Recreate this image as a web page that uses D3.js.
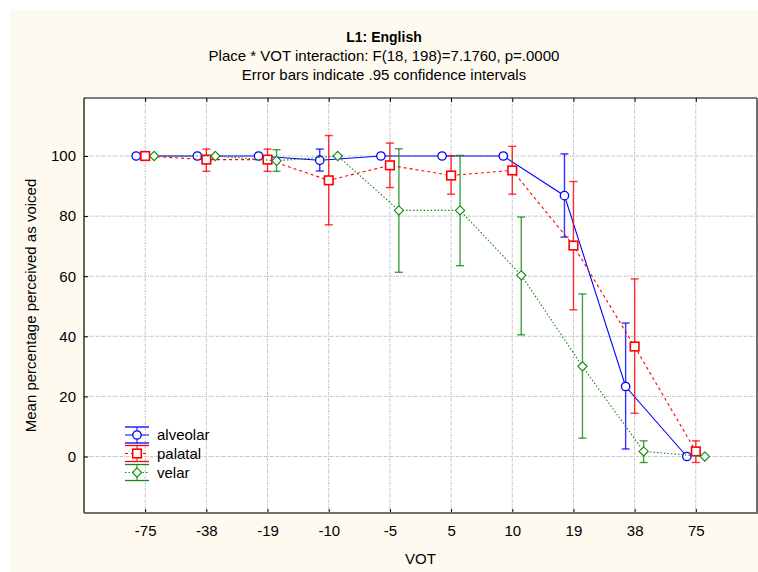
<!DOCTYPE html>
<html>
<head>
<meta charset="utf-8">
<script src="https://cdn.jsdelivr.net/npm/d3@7"></script>
<style>
  body { margin: 0; background: #ffffff; }
  svg text { font-family: "Liberation Sans", Arial, sans-serif; fill: #000; }
</style>
</head>
<body>
<div class="chart-holder"></div>
<script>
// values
var votLevels = ["-75", "-38", "-19", "-10", "-5", "5", "10", "19", "38", "75"];
var yTicks = [0, 20, 40, 60, 80, 100];

var alveolarMean = [100, 100, 100, 98.6, 100, 100, 100, 86.8, 23.3, 0];
var alveolarLow  = [100, 100, 100, 95.0, 100, 100, 100, 73.0, 2.5, 0];
var alveolarHigh = [100, 100, 100, 102.3, 100, 100, 100, 100.7, 44.4, 0];

var palatalMean = [100, 98.8, 98.8, 91.9, 96.9, 93.5, 95.2, 70.2, 36.6, 1.7];
var palatalLow  = [100, 94.9, 94.9, 77.1, 89.5, 87.3, 87.3, 48.8, 14.4, -2.0];
var palatalHigh = [100, 102.3, 102.3, 106.8, 104.3, 100.1, 103.2, 91.5, 59.1, 5.2];

var velarMean = [100, 100, 98.4, 100, 81.9, 81.9, 60.3, 30.0, 1.7, 0];
var velarLow  = [100, 100, 94.9, 100, 61.3, 63.5, 40.5, 6.1, -2.0, 0];
var velarHigh = [100, 100, 102.1, 100, 102.4, 100.2, 79.7, 54.1, 5.2, 0];

var seriesNames = ["alveolar", "palatal", "velar"];

var series = [
  {name: seriesNames[0], mean: alveolarMean, lo: alveolarLow, hi: alveolarHigh,
   color: "#0000ff", dash: null, marker: "circle", shift: -9},
  {name: seriesNames[1], mean: palatalMean, lo: palatalLow, hi: palatalHigh,
   color: "#ff0000", dash: "3,3", marker: "square", shift: 0},
  {name: seriesNames[2], mean: velarMean, lo: velarLow, hi: velarHigh,
   color: "#108a10", dash: "1.5,2", marker: "diamond", shift: 9}
];

var W = 758, H = 572;
var margin = {top: 98, right: 1, bottom: 59, left: 84};
var width = W - margin.left - margin.right;
var height = H - margin.top - margin.bottom;
var fs = "15px";

var svg = d3.select(".chart-holder")
  .append("svg")
  .attr("width", W)
  .attr("height", H);

// cream panel
svg.append("rect")
  .attr("x", 10).attr("y", 10)
  .attr("width", W - 10).attr("height", H - 10)
  .attr("fill", "#fefaf0");

// titles
var titles = svg.append("g").attr("text-anchor", "middle");
titles.append("text").attr("x", 384).attr("y", 42)
  .style("font-size", "14px").style("font-weight", "bold").text("L1: English");
titles.append("text").attr("x", 384).attr("y", 61)
  .style("font-size", fs).text("Place * VOT interaction: F(18, 198)=7.1760, p=.0000");
titles.append("text").attr("x", 384).attr("y", 80)
  .style("font-size", fs).text("Error bars indicate .95 confidence intervals");

var x = d3.scalePoint().domain(votLevels).range([0, width]).padding(1);
var y = d3.scaleLinear().domain([-18.8, 119.3]).range([height, 0]);

var grp = svg.append("g").attr("transform", `translate(${margin.left}, ${margin.top})`);

grp.append("rect").attr("width", width).attr("height", height).attr("fill", "#ffffff");

// grid
grp.append("g").selectAll("line")
  .data(votLevels)
  .enter().append("line")
    .attr("x1", d => x(d)).attr("x2", d => x(d))
    .attr("y1", 0).attr("y2", height)
    .attr("stroke", "#c4c4c4").attr("stroke-dasharray", "3,1,1,1");
grp.append("g").selectAll("line")
  .data(yTicks)
  .enter().append("line")
    .attr("x1", 0).attr("x2", width)
    .attr("y1", d => y(d)).attr("y2", d => y(d))
    .attr("stroke", "#c4c4c4").attr("stroke-dasharray", "3,1,1,1");

// axes (ticks pointing inward)
var xAxisBottom = grp.append("g")
  .attr("transform", `translate(0, ${height})`)
  .call(d3.axisBottom(x).tickSizeInner(-4).tickSizeOuter(0).tickPadding(12));
var xAxisTop = grp.append("g")
  .call(d3.axisTop(x).tickSizeInner(-4).tickSizeOuter(0).tickFormat(""));
var yAxis = grp.append("g")
  .call(d3.axisLeft(y).tickValues(yTicks).tickSizeInner(-4).tickSizeOuter(0).tickPadding(8));

[xAxisBottom, yAxis].forEach(function(a) {
  a.selectAll("text").style("font-size", fs).style("font-family", "Liberation Sans, Arial, sans-serif");
});
[xAxisBottom, xAxisTop, yAxis].forEach(function(a) {
  a.select(".domain").remove();
  a.selectAll(".tick line").attr("stroke", "#000");
});

// frame: dark top/left, grey bottom/right
grp.append("line").attr("x1", 0).attr("x2", width).attr("y1", 0).attr("y2", 0)
  .attr("stroke", "#000").attr("stroke-width", 1.2);
grp.append("line").attr("x1", 0).attr("x2", 0).attr("y1", 0).attr("y2", height)
  .attr("stroke", "#000").attr("stroke-width", 1.2);
grp.append("line").attr("x1", 0).attr("x2", width + 1).attr("y1", height).attr("y2", height)
  .attr("stroke", "#707070").attr("stroke-width", 2);
grp.append("line").attr("x1", width).attr("x2", width).attr("y1", 0).attr("y2", height)
  .attr("stroke", "#707070").attr("stroke-width", 2);

// axis titles
svg.append("text")
  .attr("x", margin.left + width / 2).attr("y", 564)
  .attr("text-anchor", "middle").style("font-size", fs).text("VOT");
svg.append("text")
  .attr("transform", `translate(36, ${margin.top + height / 2}) rotate(-90)`)
  .attr("text-anchor", "middle").style("font-size", fs)
  .text("Mean percentage perceived as voiced");

function drawMarker(sel, s, cx, cy) {
  if (s.marker === "circle") {
    sel.append("circle").attr("cx", cx).attr("cy", cy).attr("r", 4.2)
      .attr("fill", "#fff").attr("stroke", s.color).attr("stroke-width", 1.3);
  } else if (s.marker === "square") {
    sel.append("rect").attr("x", cx - 4.3).attr("y", cy - 4.3).attr("width", 8.6).attr("height", 8.6)
      .attr("fill", "#fff").attr("stroke", s.color).attr("stroke-width", 1.6);
  } else {
    var r = 4.6;
    sel.append("path")
      .attr("d", `M${cx},${cy - r}L${cx + r},${cy}L${cx},${cy + r}L${cx - r},${cy}Z`)
      .attr("fill", "#fff").attr("stroke", s.color).attr("stroke-width", 1.1);
  }
}

var line = d3.line();

series.forEach(function(s) {
  var g = grp.append("g").attr("class", "series-" + s.name);
  var pts = votLevels.map(function(v, i) { return [x(v) + s.shift, y(s.mean[i])]; });

  // error bars
  votLevels.forEach(function(v, i) {
    if (s.hi[i] - s.lo[i] < 0.5) return;
    var cx = x(v) + s.shift;
    var eb = g.append("g").attr("stroke", s.color).attr("stroke-opacity", 0.8).attr("stroke-width", 1.4);
    eb.append("line").attr("x1", cx).attr("x2", cx).attr("y1", y(s.hi[i])).attr("y2", y(s.lo[i]));
    eb.append("line").attr("x1", cx - 4).attr("x2", cx + 4).attr("y1", y(s.hi[i])).attr("y2", y(s.hi[i]));
    eb.append("line").attr("x1", cx - 4).attr("x2", cx + 4).attr("y1", y(s.lo[i])).attr("y2", y(s.lo[i]));
  });

  g.append("path")
    .attr("d", line(pts))
    .attr("fill", "none")
    .attr("stroke", s.color)
    .attr("stroke-width", 1.1)
    .attr("stroke-dasharray", s.dash);

  pts.forEach(function(p) { drawMarker(g, s, p[0], p[1]); });
});

// legend
var legend = svg.append("g").attr("class", "legend");
var legendY = [435, 453.5, 472.5];
series.forEach(function(s, i) {
  var cy = legendY[i], cx = 137;
  var lg = legend.append("g");
  lg.append("line").attr("x1", cx - 12).attr("x2", cx + 12).attr("y1", cy - 8).attr("y2", cy - 8)
    .attr("stroke", s.color).attr("stroke-width", 1.3);
  lg.append("line").attr("x1", cx - 12).attr("x2", cx + 12).attr("y1", cy + 8).attr("y2", cy + 8)
    .attr("stroke", s.color).attr("stroke-width", 1.3);
  lg.append("line").attr("x1", cx).attr("x2", cx).attr("y1", cy - 8).attr("y2", cy + 8)
    .attr("stroke", s.color);
  lg.append("line").attr("x1", cx - 12).attr("x2", cx + 12).attr("y1", cy).attr("y2", cy)
    .attr("stroke", s.color).attr("stroke-dasharray", s.dash);
  drawMarker(lg, s, cx, cy);
  lg.append("text").attr("x", 157).attr("y", cy + 5).style("font-size", fs).text(s.name);
});
</script>
</body>
</html>
